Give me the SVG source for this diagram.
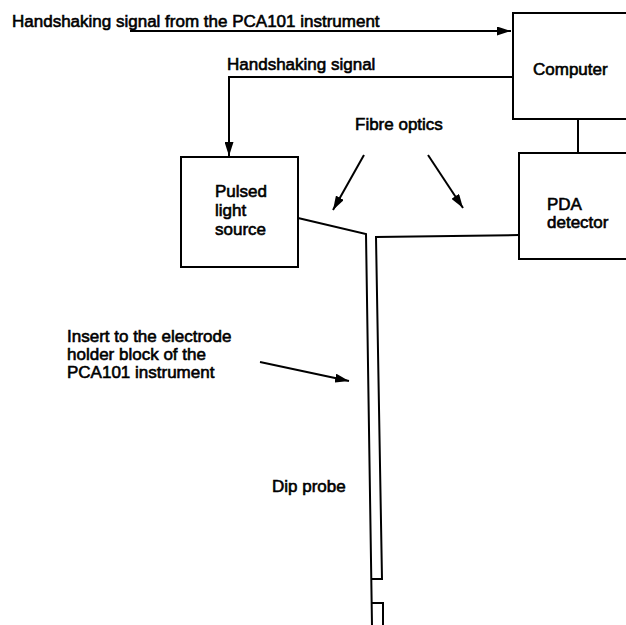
<svg xmlns="http://www.w3.org/2000/svg" width="626" height="625" viewBox="0 0 626 625">
<defs>
<style>
.t{font-family:"Liberation Sans",Arial,Helvetica,sans-serif;font-size:17px;fill:#000;stroke:#000;stroke-width:0.6px}
.box{fill:#fff;stroke:#000;stroke-width:2}
.ln{fill:none;stroke:#000;stroke-width:2}
</style>
<marker id="ah" viewBox="0 0 14 9" refX="14" refY="4.5" markerWidth="14" markerHeight="9" markerUnits="userSpaceOnUse" orient="auto">
<path d="M0,0 L14,4.5 L0,9 Z" fill="#000"/>
</marker>
</defs>
<rect width="626" height="625" fill="#fff"/>
<g id="connectors">
<line class="ln" x1="130" y1="31" x2="511" y2="31" marker-end="url(#ah)"/>
<polyline class="ln" points="513,77 229,77 229,156" marker-end="url(#ah)"/>
<line class="ln" x1="578" y1="119" x2="578" y2="153"/>
<line class="ln" x1="364" y1="155" x2="333" y2="210" marker-end="url(#ah)"/>
<line class="ln" x1="428" y1="155" x2="463" y2="208" marker-end="url(#ah)"/>
<line class="ln" x1="260" y1="362" x2="349" y2="381" marker-end="url(#ah)"/>
</g>
<g id="probe">
<polyline class="ln" points="298,218 366,234 372,625"/>
<polyline class="ln" points="519,235 376,237 382,579 372,579"/>
<polyline class="ln" points="372,603 383,603 383,625"/>
</g>
<g id="computer">
<rect class="box" x="513" y="13" width="130" height="106"/>
<text class="t" x="533" y="75">Computer</text>
</g>
<g id="pda">
<rect class="box" x="519" y="153" width="120" height="106"/>
<text class="t" x="547" y="210">PDA</text>
<text class="t" x="547" y="228">detector</text>
</g>
<g id="pulsed">
<rect class="box" x="181" y="157" width="117" height="110"/>
<text class="t" x="215" y="197">Pulsed</text>
<text class="t" x="215" y="216">light</text>
<text class="t" x="215" y="235">source</text>
</g>
<g id="labels">
<text class="t" x="12" y="27">Handshaking signal from the PCA101 instrument</text>
<text class="t" x="227" y="70">Handshaking signal</text>
<text class="t" x="355" y="130">Fibre optics</text>
<text class="t" x="67" y="342">Insert to the electrode</text>
<text class="t" x="67" y="360">holder block of the</text>
<text class="t" x="67" y="378">PCA101 instrument</text>
<text class="t" x="272" y="492">Dip probe</text>
</g>
</svg>
